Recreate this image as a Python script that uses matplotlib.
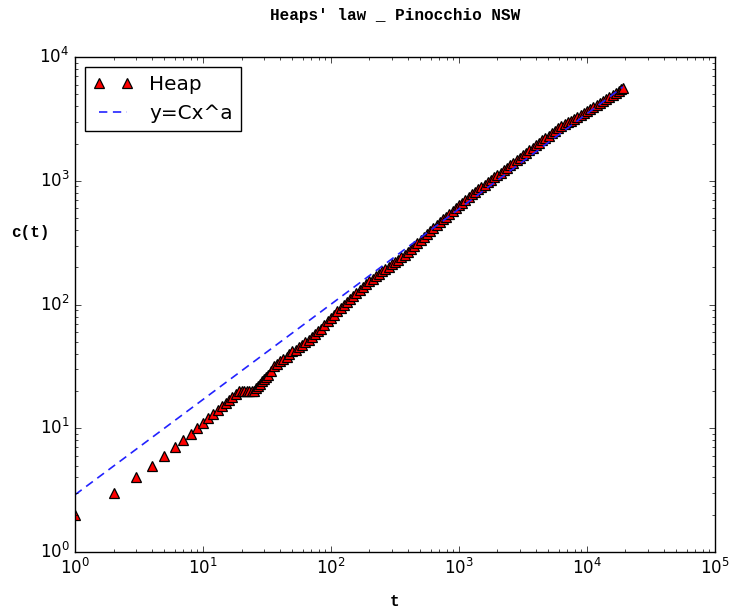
import matplotlib
matplotlib.use("Agg")
import matplotlib.pyplot as plt
import numpy as np

# vocabulary growth c(t) (t = tokens seen)
t_vals = [1, 2, 3, 4, 5, 6, 7, 8, 9, 10, 11, 12, 13, 14, 15, 16, 17, 18, 19,
          20, 21, 22, 23, 24, 25, 26, 27, 28, 29, 30, 31, 32, 34, 36, 38, 40,
          42, 45, 47, 50, 53, 56, 59, 63, 67, 71, 75, 79, 84, 89, 94, 100,
          106, 112, 119, 126, 133, 141, 149, 158, 168, 178, 189, 200, 212,
          224, 237, 251, 266, 282, 299, 316, 335, 355, 376, 398, 422, 447,
          473, 501, 531, 562, 596, 631, 668, 708, 750, 794, 841, 891, 944,
          1000, 1059, 1122, 1189, 1259, 1334, 1413, 1496, 1585, 1679, 1778,
          1884, 1995, 2113, 2239, 2371, 2512, 2661, 2818, 2985, 3162, 3350,
          3548, 3758, 3981, 4217, 4467, 4732, 5012, 5309, 5623, 5957, 6310,
          6683, 7079, 7499, 7943, 8414, 8913, 9441, 10000, 10592, 11220,
          11885, 12589, 13335, 14125, 14962, 15849, 16788, 17783, 18430,
          19100]
c_vals = [2, 3, 4, 5, 6, 7, 8, 9, 10, 11, 12, 13, 14, 15, 16, 17, 18, 19, 20,
          20, 20, 20, 20, 20, 20, 21, 22, 23, 24, 25, 26, 27, 29, 32, 33, 35,
          36, 38, 40, 42, 43, 45, 47, 50, 52, 55, 58, 61, 64, 68, 73, 78,
          83, 88, 94, 100, 105, 111, 117, 124, 131, 138, 146, 155, 162,
          170, 178, 186, 194, 203, 212, 221, 231, 242, 253, 264, 279, 295,
          312, 330, 349, 369, 390, 413, 436, 461, 490, 514, 542, 571, 601,
          634, 668, 703, 741, 782, 818, 855, 893, 933, 975, 1019,
          1064, 1112, 1162, 1213, 1270, 1330, 1394, 1462, 1533, 1607, 1685,
          1767, 1852, 1941, 2037, 2128, 2223, 2323, 2427, 2535, 2649, 2761,
          2864, 2965, 3069, 3177, 3289, 3404, 3524, 3648, 3784, 3926,
          4083, 4246, 4416, 4592, 4775, 4966, 5164, 5370, 5508,
          5613]

# fitted power law y = C * x^a
C = 2.9
a = 0.77

plt.style.use('classic')
fig = plt.figure(figsize=(7.31, 6.14), dpi=100)
ax = fig.add_axes([0.1026, 0.101, 0.8754, 0.806])

t = np.array(t_vals, dtype=float)
c = np.array(c_vals, dtype=float)

ax.plot(t, c, '^', color='red', markeredgecolor='black', markeredgewidth=0.9,
        markersize=7, label='Heap')
ax.plot(t, C * t ** a, '--', color='#2222ff', linewidth=1.2, dashes=(6, 4),
        label='y=Cx^a')

ax.set_xscale('log')
ax.set_yscale('log')
ax.set_xlim(1, 1e5)
ax.set_ylim(1, 1e4)

mono = {'family': 'Liberation Mono', 'weight': 'bold', 'size': 11.5}
ax.set_title("Heaps' law _ Pinocchio NSW", fontdict=mono, y=1.06)
ax.set_xlabel('t', fontdict=mono)
ax.set_ylabel('c(t)', fontdict=mono, rotation=0)
ax.xaxis.set_label_coords(0.5, -0.085)
ax.yaxis.set_label_coords(-0.07, 0.63)

ax.legend(loc='upper left', numpoints=2)

fig.savefig('out.png', dpi=100)
